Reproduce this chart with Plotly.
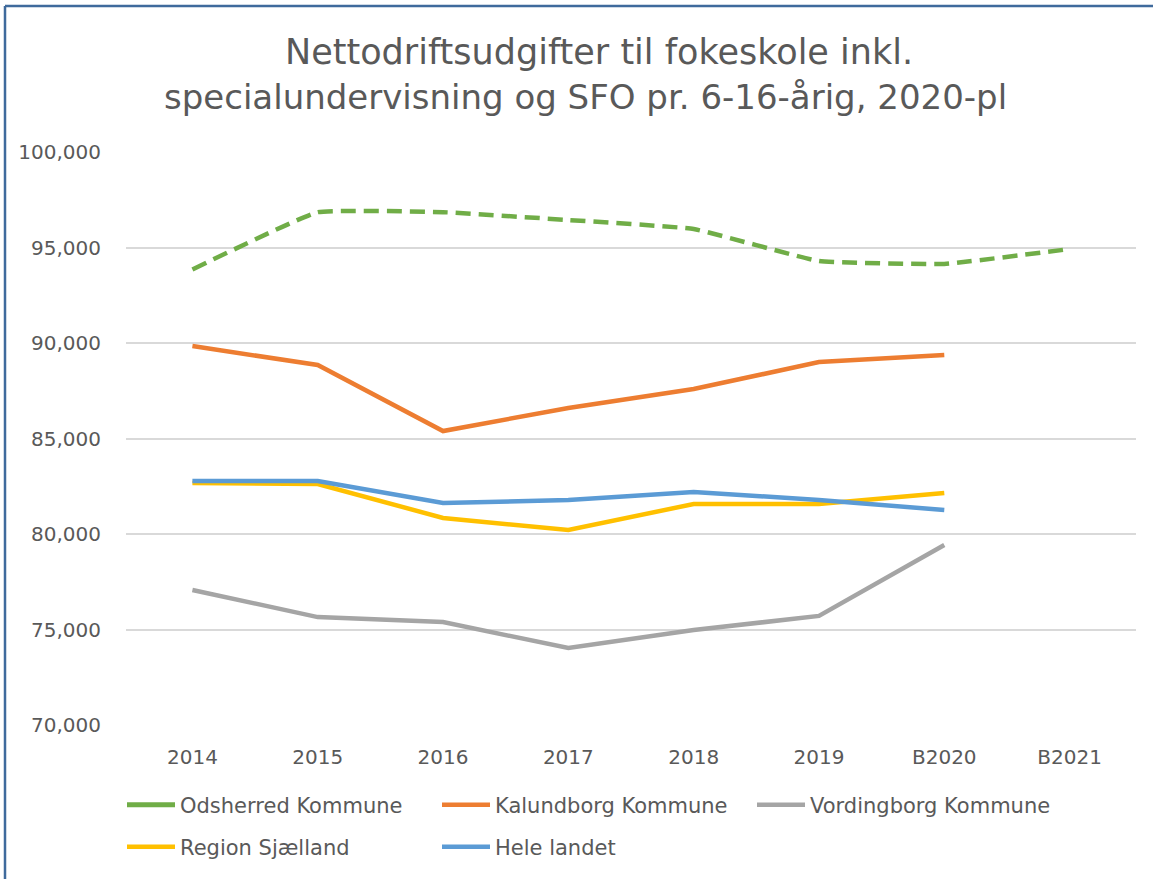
import plotly.graph_objects as go

categories = ["2014", "2015", "2016", "2017", "2018", "2019", "B2020", "B2021"]
odsherred = [93850, 96850, 96850, 96440, 95970, 94290, 94140, 94920]
kalundborg = [89840, 88850, 85390, 86600, 87590, 89000, 89370, None]
vordingborg = [77070, 75650, 75390, 74030, 74970, 75710, 79420, None]
region_sj = [82670, 82620, 80840, 80210, 81570, 81570, 82150, None]
hele_landet = [82770, 82770, 81620, 81780, 82200, 81780, 81260, None]

series = [
    ("Odsherred Kommune", odsherred, "#70AD47", "spline", "15px,8px", "legend"),
    ("Kalundborg Kommune", kalundborg, "#ED7D31", "linear", "solid", "legend"),
    ("Vordingborg Kommune", vordingborg, "#A5A5A5", "linear", "solid", "legend"),
    ("Region Sjælland", region_sj, "#FFC000", "linear", "solid", "legend2"),
    ("Hele landet", hele_landet, "#5B9BD5", "linear", "solid", "legend2"),
]

FONT = "DejaVu Sans"
TXT = "#595959"

fig = go.Figure()
for name, vals, color, shape, dash, leg in series:
    if dash != "solid":
        # legend entry drawn with a solid swatch, as in the reference
        fig.add_trace(go.Scatter(
            x=[None], y=[None], name=name, mode="lines",
            line=dict(color=color, width=5), legend=leg, showlegend=True,
        ))
    fig.add_trace(go.Scatter(
        x=categories, y=vals, name=name, mode="lines",
        line=dict(color=color, width=4.5, shape=shape, dash=dash, smoothing=0.3),
        connectgaps=False, showlegend=(dash == "solid"), legend=leg,
    ))

W, H = 1153, 879
L, R, T, B = 126, 17, 152, 154
pw, ph = W - L - R, H - T - B

def px_x(x):
    return (x - L) / pw

def px_y(y):
    return (H - B - y) / ph

legend_common = dict(
    orientation="h", xanchor="left", yanchor="middle",
    entrywidth=252, entrywidthmode="pixels",
    font=dict(family=FONT, size=21, color=TXT),
    itemwidth=48, bgcolor="rgba(0,0,0,0)",
)

fig.update_layout(
    width=W, height=H,
    margin=dict(l=L, r=R, t=T, b=B),
    paper_bgcolor="white", plot_bgcolor="white",
    font=dict(family=FONT, color=TXT, size=20),
    showlegend=True,
    legend=dict(x=px_x(122), y=px_y(805), **legend_common),
    legend2=dict(x=px_x(122), y=px_y(847), **legend_common),
    xaxis=dict(
        type="category", categoryorder="array", categoryarray=categories,
        showgrid=False, zeroline=False, showline=False, ticks="",
        tickfont=dict(family=FONT, size=20, color=TXT),
        range=[-0.53, 7.53], ticklabelstandoff=18,
    ),
    yaxis=dict(
        range=[70000, 100000], dtick=5000, tickformat=",d",
        showgrid=True, gridcolor="#D9D9D9", gridwidth=1.5,
        zeroline=False, showline=False, ticks="",
        tickfont=dict(family=FONT, size=20, color=TXT),
        ticklabelstandoff=24,
    ),
    annotations=[
        dict(text="Nettodriftsudgifter til fokeskole inkl.", xref="paper", yref="paper",
             x=px_x(599), y=px_y(52), xanchor="center", yanchor="middle", showarrow=False,
             font=dict(family=FONT, size=35, color=TXT)),
        dict(text="specialundervisning og SFO pr. 6-16-årig, 2020-pl", xref="paper", yref="paper",
             x=px_x(585), y=px_y(97), xanchor="center", yanchor="middle", showarrow=False,
             font=dict(family=FONT, size=34, color=TXT)),
    ],
    shapes=[
        dict(type="line", xref="paper", yref="paper", x0=px_x(5), x1=px_x(1160), y0=px_y(6), y1=px_y(6),
             line=dict(color="#3F6A9C", width=2.5)),
        dict(type="line", xref="paper", yref="paper", x0=px_x(5), x1=px_x(5), y0=px_y(6), y1=px_y(890),
             line=dict(color="#3F6A9C", width=2.5)),
    ],
)

fig.write_html(
    "out.html",
    config={"displayModeBar": False},
    post_script="document.body.style.margin='0';document.body.style.overflow='hidden';",
)
